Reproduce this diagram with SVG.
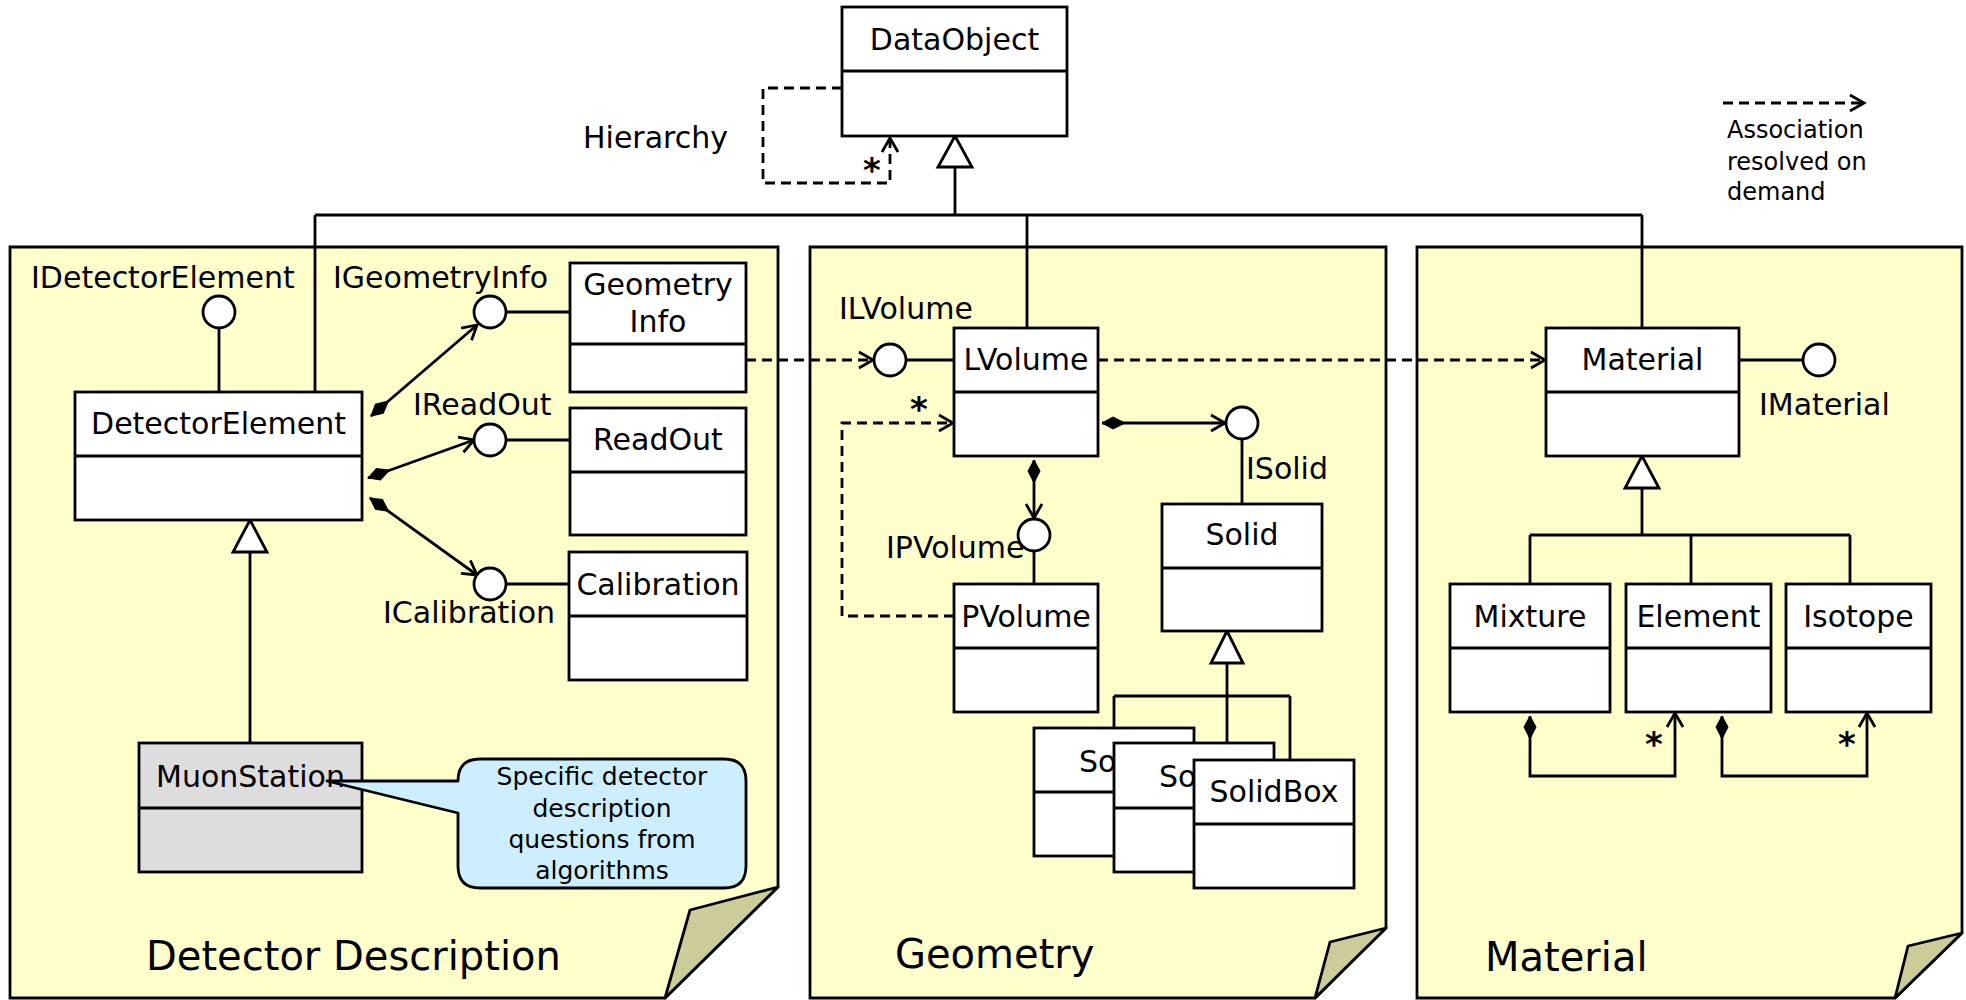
<svg xmlns="http://www.w3.org/2000/svg" width="1966" height="1000" viewBox="0 0 1966 1000">
<style>
text{font-family:"DejaVu Sans","Liberation Sans",sans-serif;font-size:30px;fill:#000}
.t{font-size:40px}
.c{text-anchor:middle}
.star{font-weight:bold;text-anchor:middle;font-size:34px}
.note{font-size:25px;text-anchor:middle}
.leg{font-size:24px}
.pkg{fill:#FFFFCC;stroke:#000;stroke-width:2.8}
.flap{fill:#CCCC99;stroke:#000;stroke-width:2.8;stroke-linejoin:round}
.box{fill:#fff;stroke:#000;stroke-width:2.8}
.gray{fill:#DDDDDD}
.div{stroke:#000;stroke-width:2.8}
.ln{fill:none;stroke:#000;stroke-width:2.8}
.dash{stroke-dasharray:10 6}
.iface{fill:#fff;stroke:#000;stroke-width:2.8}
.gen{fill:#fff;stroke:#000;stroke-width:2.8;stroke-linejoin:miter}
.callout{fill:#CCEEFF;stroke:#000;stroke-width:2.8;stroke-linejoin:round}
</style>
<defs>
<marker id="open" markerUnits="userSpaceOnUse" markerWidth="20" markerHeight="20" refX="0" refY="0" orient="auto" overflow="visible">
<path d="M-14,-8 L0,0 L-14,8" fill="none" stroke="#000" stroke-width="2.8" stroke-dasharray="none"/>
</marker>
<marker id="diamond" markerUnits="userSpaceOnUse" markerWidth="30" markerHeight="20" refX="0" refY="0" orient="auto" overflow="visible">
<path d="M0,0 L11,-6 L23,0 L11,6 Z" fill="#000" stroke="#000" stroke-width="1"/>
</marker>
</defs>

<g id="packages">
<g id="pkg-detector">
<path class="pkg" d="M10,247 H778 V887 L665,998 H10 Z"/>
<path class="flap" d="M778,887 L690,910 L665,998 Z"/>
<text class="t" x="146" y="970">Detector Description</text>
</g>
<g id="pkg-geometry">
<path class="pkg" d="M810,247 H1386 V928 L1315,998 H810 Z"/>
<path class="flap" d="M1386,928 L1330,942 L1315,998 Z"/>
<text class="t" x="895" y="968">Geometry</text>
</g>
<g id="pkg-material">
<path class="pkg" d="M1417,247 H1962 V933 L1895,998 H1417 Z"/>
<path class="flap" d="M1962,933 L1908,946 L1895,998 Z"/>
<text class="t" x="1485" y="971">Material</text>
</g>
</g>

<g id="connectors">
<path class="ln" d="M955,167 V215 M315,215 H1642 M315,215 V392 M1027,215 V328 M1642,215 V328"/>
<polygon class="gen" points="955,136 938,167 972,167"/>
<path class="ln dash" d="M842,88 H763 V183 H890 V138" marker-end="url(#open)"/>
<text class="star" x="872" y="182">*</text>
<text x="583" y="148">Hierarchy</text>
<path class="ln" d="M371,416 L477,325" marker-start="url(#diamond)" marker-end="url(#open)"/>
<path class="ln" d="M368,478 L474,440" marker-start="url(#diamond)" marker-end="url(#open)"/>
<path class="ln" d="M370,498 L477,575" marker-start="url(#diamond)" marker-end="url(#open)"/>
<path class="ln" d="M250,552 V743"/>
<polygon class="gen" points="250,520 233,552 267,552"/>
<path class="ln" d="M219,328 V392 M506,312 H570 M506,440 H570 M506,584 H569 M906,360 H954 M1242,439 V504 M1034,551 V584 M1739,360 H1803"/>
<path class="ln dash" d="M746,360 H873" marker-end="url(#open)"/>
<path class="ln dash" d="M1098,360 H1545" marker-end="url(#open)"/>
<path class="ln dash" d="M954,616 H842 V423 H953" marker-end="url(#open)"/>
<text class="star" x="919" y="421">*</text>
<path class="ln" d="M1102,423 H1225" marker-start="url(#diamond)" marker-end="url(#open)"/>
<path class="ln" d="M1034,460 V518" marker-start="url(#diamond)" marker-end="url(#open)"/>
<path class="ln" d="M1227,663 V743 M1114,696 H1290 M1114,696 V728 M1290,696 V760"/>
<polygon class="gen" points="1227,631 1211,663 1243,663"/>
<path class="ln" d="M1642,488 V535 M1530,535 H1850 M1530,535 V584 M1691,535 V584 M1850,535 V584"/>
<polygon class="gen" points="1642,456 1625,488 1659,488"/>
<path class="ln" d="M1530,716 V776 H1675 V713" marker-start="url(#diamond)" marker-end="url(#open)"/>
<text class="star" x="1654" y="756">*</text>
<path class="ln" d="M1722,716 V776 H1867 V713" marker-start="url(#diamond)" marker-end="url(#open)"/>
<text class="star" x="1847" y="756">*</text>
<path class="ln dash" d="M1723,103 H1864" marker-end="url(#open)"/>
</g>

<g id="legend">
<text class="leg" x="1727" y="138">Association</text>
<text class="leg" x="1727" y="170">resolved on</text>
<text class="leg" x="1727" y="200">demand</text>
</g>

<g id="DataObject">
<rect class="box" x="842" y="7" width="225" height="129"/>
<line class="div" x1="842" y1="71" x2="1067" y2="71"/>
<text class="c" x="954.5" y="50">DataObject</text>
</g>

<g id="DetectorElement">
<rect class="box" x="75" y="392" width="287" height="128"/>
<line class="div" x1="75" y1="456" x2="362" y2="456"/>
<text class="c" x="218.5" y="434">DetectorElement</text>
</g>
<g id="IDetectorElement">
<circle class="iface" cx="219" cy="312" r="16"/>
<text x="31" y="288">IDetectorElement</text>
</g>
<g id="GeometryInfo">
<rect class="box" x="570" y="263" width="176" height="129"/>
<line class="div" x1="570" y1="344" x2="746" y2="344"/>
<text class="c" x="658" y="295">Geometry</text>
<text class="c" x="658" y="332">Info</text>
</g>
<g id="IGeometryInfo">
<circle class="iface" cx="490" cy="312" r="16"/>
<text x="333" y="288">IGeometryInfo</text>
</g>
<g id="ReadOut">
<rect class="box" x="570" y="408" width="176" height="127"/>
<line class="div" x1="570" y1="472" x2="746" y2="472"/>
<text class="c" x="658" y="450">ReadOut</text>
</g>
<g id="IReadOut">
<circle class="iface" cx="490" cy="440" r="16"/>
<text x="413" y="415">IReadOut</text>
</g>
<g id="Calibration">
<rect class="box" x="569" y="552" width="178" height="128"/>
<line class="div" x1="569" y1="616" x2="747" y2="616"/>
<text class="c" x="658" y="595">Calibration</text>
</g>
<g id="ICalibration">
<circle class="iface" cx="490" cy="584" r="16"/>
<text x="383" y="623">ICalibration</text>
</g>
<g id="MuonStation">
<rect class="box gray" x="139" y="743" width="223" height="129"/>
<line class="div" x1="139" y1="808" x2="362" y2="808"/>
<text class="c" x="250.5" y="787">MuonStation</text>
</g>
<g id="note">
<path class="callout" d="M480,759 H724 Q746,759 746,781 V866 Q746,888 724,888 H480 Q458,888 458,866 V813 L327,781 L458,781 Q458,759 480,759 Z"/>
<text class="note" x="602" y="785">Specific detector</text>
<text class="note" x="602" y="817">description</text>
<text class="note" x="602" y="848">questions from</text>
<text class="note" x="602" y="879">algorithms</text>
</g>

<g id="LVolume">
<rect class="box" x="954" y="328" width="144" height="128"/>
<line class="div" x1="954" y1="392" x2="1098" y2="392"/>
<text class="c" x="1026" y="370">LVolume</text>
</g>
<g id="ILVolume">
<circle class="iface" cx="890" cy="360" r="16"/>
<text x="839" y="319">ILVolume</text>
</g>
<g id="PVolume">
<rect class="box" x="954" y="584" width="144" height="128"/>
<line class="div" x1="954" y1="648" x2="1098" y2="648"/>
<text class="c" x="1026" y="627">PVolume</text>
</g>
<g id="IPVolume">
<circle class="iface" cx="1034" cy="535" r="16"/>
<text x="886" y="558">IPVolume</text>
</g>
<g id="Solid">
<rect class="box" x="1162" y="504" width="160" height="127"/>
<line class="div" x1="1162" y1="568" x2="1322" y2="568"/>
<text class="c" x="1242" y="545">Solid</text>
</g>
<g id="ISolid">
<circle class="iface" cx="1242" cy="423" r="16"/>
<text x="1246" y="479">ISolid</text>
</g>
<g id="Solid1">
<rect class="box" x="1034" y="728" width="160" height="128"/>
<line class="div" x1="1034" y1="792" x2="1194" y2="792"/>
<text x="1079" y="772">So</text>
</g>
<g id="Solid2">
<rect class="box" x="1114" y="743" width="160" height="129"/>
<line class="div" x1="1114" y1="808" x2="1274" y2="808"/>
<text x="1159" y="787">So</text>
</g>
<g id="SolidBox">
<rect class="box" x="1194" y="760" width="160" height="128"/>
<line class="div" x1="1194" y1="824" x2="1354" y2="824"/>
<text class="c" x="1274" y="802">SolidBox</text>
</g>

<g id="Material">
<rect class="box" x="1546" y="328" width="193" height="128"/>
<line class="div" x1="1546" y1="392" x2="1739" y2="392"/>
<text class="c" x="1642.5" y="370">Material</text>
</g>
<g id="IMaterial">
<circle class="iface" cx="1819" cy="360" r="16"/>
<text x="1759" y="415">IMaterial</text>
</g>
<g id="Mixture">
<rect class="box" x="1450" y="584" width="160" height="128"/>
<line class="div" x1="1450" y1="648" x2="1610" y2="648"/>
<text class="c" x="1530" y="627">Mixture</text>
</g>
<g id="Element">
<rect class="box" x="1626" y="584" width="145" height="128"/>
<line class="div" x1="1626" y1="648" x2="1771" y2="648"/>
<text class="c" x="1698.5" y="627">Element</text>
</g>
<g id="Isotope">
<rect class="box" x="1786" y="584" width="145" height="128"/>
<line class="div" x1="1786" y1="648" x2="1931" y2="648"/>
<text class="c" x="1858.5" y="627">Isotope</text>
</g>
</svg>
